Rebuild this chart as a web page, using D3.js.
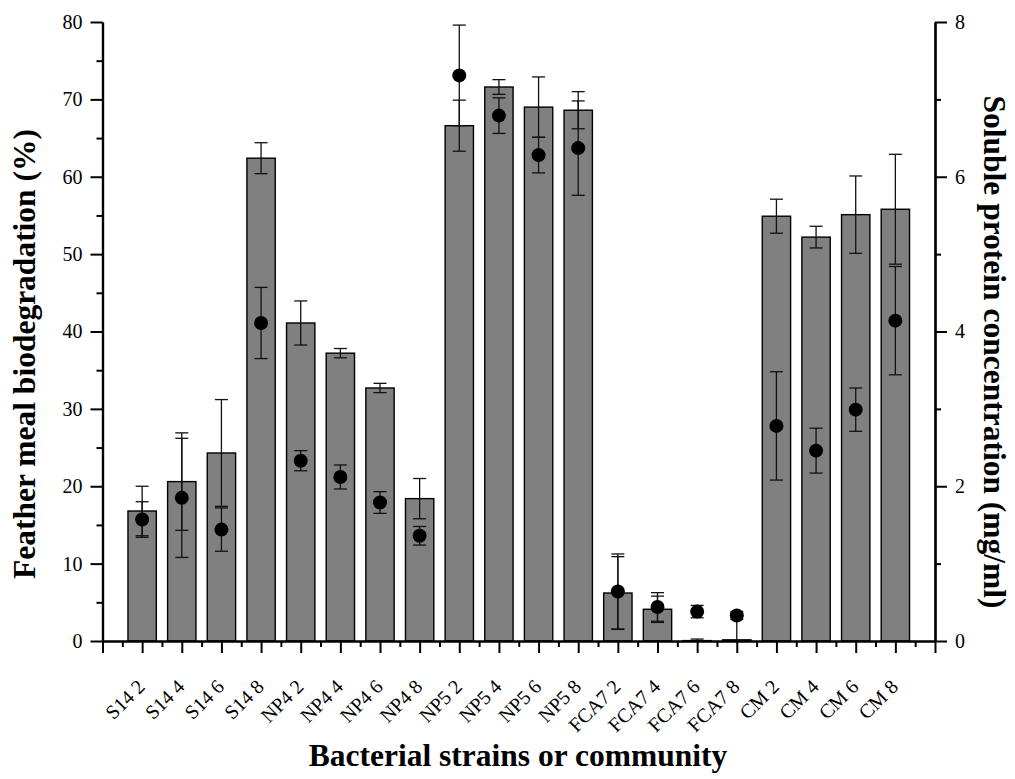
<!DOCTYPE html>
<html>
<head>
<meta charset="utf-8">
<script src="https://cdn.jsdelivr.net/npm/d3@7"></script>
<style>
  body { margin: 0; background: #fff; }
  svg text { font-family: "Liberation Serif", "Times New Roman", serif; }
</style>
</head>
<body>
<div id="chart"></div>
<script>
var labels = ["S14 2", "S14 4", "S14 6", "S14 8", "NP4 2", "NP4 4", "NP4 6", "NP4 8",
  "NP5 2", "NP5 4", "NP5 6", "NP5 8", "FCA7 2", "FCA7 4", "FCA7 6", "FCA7 8",
  "CM 2", "CM 4", "CM 6", "CM 8"];
// feather meal biodegradation (%), left axis
var degradation = [16.8, 20.6, 24.3, 62.4, 41.1, 37.2, 32.7, 18.4, 66.6, 71.6, 69.0, 68.6,
  6.2, 4.1, 0.05, 0.15, 54.9, 52.2, 55.1, 55.8];
var degradationErr = [3.2, 6.3, 6.9, 2.0, 2.85, 0.6, 0.6, 2.6, 3.3, 0.95, 3.9, 2.4,
  4.7, 1.7, 0.2, 3.1, 2.2, 1.4, 5.0, 7.1];
// soluble protein (mg/ml), right axis
var protein = [1.57, 1.85, 1.44, 4.11, 2.33, 2.12, 1.79, 1.36, 7.31, 6.79, 6.28, 6.37,
  0.64, 0.44, 0.38, 0.33, 2.78, 2.46, 2.99, 4.14];
var proteinErr = [0.23, 0.77, 0.28, 0.46, 0.13, 0.155, 0.14, 0.12, 0.65, 0.23, 0.23, 0.61,
  0.485, 0.185, 0.08, 0.05, 0.70, 0.29, 0.28, 0.70];
var leftTicks = [0, 10, 20, 30, 40, 50, 60, 70, 80];
var rightTicks = [0, 2, 4, 6, 8];

var W = 1015, H = 779;
var svg = d3.select("#chart").append("svg")
  .attr("width", W).attr("height", H);

var x = d3.scaleLinear().domain([0, labels.length + 1]).range([102.5, 935]);
var yL = d3.scaleLinear().domain([0, 80]).range([641, 22]);
var yR = d3.scaleLinear().domain([0, 8]).range([641, 22]);
var barW = (x(1) - x(0)) * 0.715;
var capW = 13;

var data = labels.map(function(d, i) {
  return {label: d, pos: i + 1, deg: degradation[i], degErr: degradationErr[i],
    prot: protein[i], protErr: proteinErr[i]};
});

// bars
svg.append("g").selectAll("rect")
  .data(data).enter().append("rect")
    .attr("x", function(d) { return x(d.pos) - barW / 2; })
    .attr("y", function(d) { return yL(d.deg); })
    .attr("width", barW)
    .attr("height", function(d) { return yL(0) - yL(d.deg); })
    .attr("fill", "#808080")
    .attr("stroke", "#000")
    .attr("stroke-width", 1.4);

function errorBars(g, cx, yScale, val, err) {
  var lo = Math.max(0, val - err), hi = val + err;
  g.append("line")
    .attr("x1", cx).attr("x2", cx)
    .attr("y1", yScale(lo)).attr("y2", yScale(hi))
    .attr("stroke", "#111").attr("stroke-width", 1.3);
  g.append("line")
    .attr("x1", cx - capW / 2).attr("x2", cx + capW / 2)
    .attr("y1", yScale(hi)).attr("y2", yScale(hi))
    .attr("stroke", "#111").attr("stroke-width", 1.3);
  if (val - err >= 0) {
    g.append("line")
      .attr("x1", cx - capW / 2).attr("x2", cx + capW / 2)
      .attr("y1", yScale(lo)).attr("y2", yScale(lo))
      .attr("stroke", "#111").attr("stroke-width", 1.3);
  }
}

var errG = svg.append("g");
data.forEach(function(d) { errorBars(errG, x(d.pos), yL, d.deg, d.degErr); });
data.forEach(function(d) { errorBars(errG, x(d.pos), yR, d.prot, d.protErr); });

// protein dots
svg.append("g").selectAll("circle")
  .data(data).enter().append("circle")
    .attr("cx", function(d) { return x(d.pos); })
    .attr("cy", function(d) { return yR(d.prot); })
    .attr("r", 7)
    .attr("fill", "#000");

// axes
var axisL = d3.axisLeft(yL).tickValues(leftTicks).tickSize(12).tickPadding(8).tickSizeOuter(0);
var gL = svg.append("g").attr("transform", "translate(" + x(0) + ",0)").call(axisL);
svg.append("g").attr("transform", "translate(" + x(0) + ",0)")
  .call(d3.axisLeft(yL).tickValues(d3.range(5, 80, 10)).tickSize(6).tickFormat("").tickSizeOuter(0));

var axisR = d3.axisRight(yR).tickValues(rightTicks).tickSize(12).tickPadding(8).tickSizeOuter(0);
var gR = svg.append("g").attr("transform", "translate(" + x(labels.length + 1) + ",0)").call(axisR);
svg.append("g").attr("transform", "translate(" + x(labels.length + 1) + ",0)")
  .call(d3.axisRight(yR).tickValues([1, 3, 5, 7]).tickSize(6).tickFormat("").tickSizeOuter(0));

var gB = svg.append("g").attr("transform", "translate(0," + yL(0) + ")")
  .call(d3.axisBottom(x).tickValues(d3.range(0, labels.length + 2)).tickSize(12).tickFormat("").tickSizeOuter(0));
svg.append("g").attr("transform", "translate(0," + yL(0) + ")")
  .call(d3.axisBottom(x).tickValues(d3.range(0.5, labels.length + 1, 1)).tickSize(6).tickFormat("").tickSizeOuter(0));

svg.selectAll(".domain").attr("stroke", "#000").attr("stroke-width", 2.2);
svg.selectAll(".tick line").attr("stroke", "#000").attr("stroke-width", 2);
svg.selectAll(".tick text").attr("font-size", 20).attr("fill", "#000")
  .style("font-family", "'Liberation Serif', serif");

// rotated category labels
svg.append("g").selectAll("text")
  .data(data).enter().append("text")
    .attr("transform", function(d) { return "translate(" + (x(d.pos) + 4) + ",688) rotate(-45)"; })
    .attr("text-anchor", "end")
    .attr("font-size", 20)
    .text(function(d) { return d.label; });

// titles
svg.append("text")
  .attr("transform", "translate(35,354) rotate(-90)")
  .attr("text-anchor", "middle")
  .attr("font-size", 31.5).attr("font-weight", "bold")
  .text("Feather meal biodegradation (%)");
svg.append("text")
  .attr("transform", "translate(984,352) rotate(90)")
  .attr("text-anchor", "middle")
  .attr("font-size", 31.5).attr("font-weight", "bold")
  .text("Soluble protein concentration (mg/ml)");
svg.append("text")
  .attr("x", 518).attr("y", 766)
  .attr("text-anchor", "middle")
  .attr("font-size", 31.5).attr("font-weight", "bold")
  .text("Bacterial strains or community");
</script>
</body>
</html>
